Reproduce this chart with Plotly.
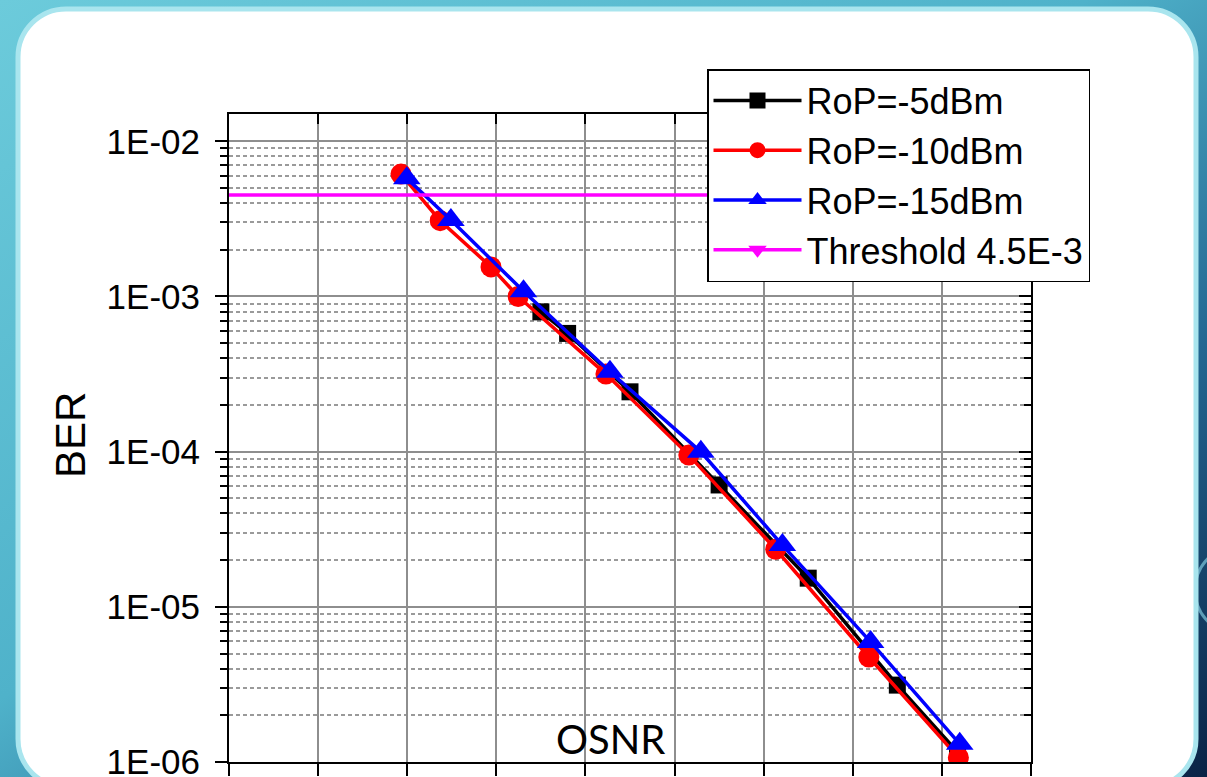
import base64
import plotly.graph_objects as go

# ---------------- data ----------------
osnr_m5 = [19.0, 19.6, 21.0, 23.0, 25.0, 27.0, 28.35]
ber_m5 = [7.96e-4, 5.78e-4, 2.43e-4, 6.1e-5, 1.53e-5, 3.13e-6, 1.16e-6]

osnr_m10 = [15.86, 16.74, 17.88, 18.49, 20.46, 22.32, 24.27, 26.36, 28.37]
ber_m10 = [6.15e-3, 3.08e-3, 1.55e-3, 1.0e-3, 3.16e-4, 9.5e-5, 2.35e-5, 4.75e-6, 1.07e-6]

osnr_m15 = [15.99, 16.98, 18.61, 20.55, 22.59, 24.42, 26.40, 28.40]
ber_m15 = [5.77e-3, 3.11e-3, 1.08e-3, 3.27e-4, 9.97e-5, 2.5e-5, 5.94e-6, 1.31e-6]

thr_osnr = [11, 31]
thr_ber = [4.5e-3, 4.5e-3]

names = ["RoP=-5dBm", "RoP=-10dBm", "RoP=-15dBm", "Threshold 4.5E-3"]
ytick_vals = [1e-2, 1e-3, 1e-4, 1e-5, 1e-6]
ytick_text = ["1E-02", "1E-03", "1E-04", "1E-05", "1E-06"]
minor_vals = [m * 10.0 ** e for e in range(-6, -1) for m in range(2, 10)]

X_RANGE = [12, 30]
Y_RANGE = [-6, -1.824]

W, H = 1207, 777
ML, MR, MT, MB = 229, 176, 114, 15
PW, PH = W - ML - MR, H - MT - MB

FONT = "Liberation Sans, Arial, sans-serif"

# ---------------- background (slide look) ----------------
svg = f'''<svg xmlns="http://www.w3.org/2000/svg" width="{W}" height="{H}" viewBox="0 0 {W} {H}">
<defs>
<linearGradient id="g" x1="0" y1="0" x2="1" y2="1">
<stop offset="0" stop-color="#6ccbdb"/>
<stop offset="0.45" stop-color="#4fb2ca"/>
<stop offset="0.72" stop-color="#236792"/>
<stop offset="1" stop-color="#0a2346"/>
</linearGradient>
</defs>
<rect width="{W}" height="{H}" fill="url(#g)"/>
<circle cx="1240" cy="590" r="45" fill="none" stroke="#7fc6dc" stroke-width="3" opacity="0.7"/>
<rect x="18" y="9" width="1178" height="778" rx="48" ry="48" fill="#ffffff" stroke="#a9e5ee" stroke-width="5"/>
</svg>'''
bg_uri = "data:image/svg+xml;base64," + base64.b64encode(svg.encode()).decode()

fig = go.Figure()

fig.add_trace(go.Scatter(
    x=thr_osnr, y=thr_ber, name=names[3], mode="lines+markers",
    line=dict(color="#ff00ff", width=3.5),
    marker=dict(symbol="triangle-down", size=18, color="#ff00ff"),
    legendrank=4, xaxis="x2", yaxis="y2", cliponaxis=True))

fig.add_trace(go.Scatter(
    x=osnr_m5, y=ber_m5, name=names[0], mode="lines+markers",
    line=dict(color="#000000", width=3.5),
    marker=dict(symbol="square", size=17, color="#000000"),
    legendrank=1))

fig.add_trace(go.Scatter(
    x=osnr_m10, y=ber_m10, name=names[1], mode="lines+markers",
    line=dict(color="#ff0000", width=3.5),
    marker=dict(symbol="circle", size=21, color="#ff0000"),
    legendrank=2))

fig.add_trace(go.Scatter(
    x=osnr_m15, y=ber_m15, name=names[2], mode="lines+markers",
    line=dict(color="#0000ff", width=3.5),
    marker=dict(symbol="triangle-up", size=24, color="#0000ff"),
    legendrank=3))

grid_col = "#8e8e8e"

fig.update_layout(
    width=W, height=H, autosize=False,
    margin=dict(l=ML, r=MR, t=MT, b=MB, autoexpand=False),
    paper_bgcolor="#ffffff", plot_bgcolor="rgba(0,0,0,0)",
    font=dict(family=FONT, color="#000000"),
    showlegend=True,
    legend=dict(
        x=(707 - ML) / PW, y=1 + (MT - 69) / PH, xanchor="left", yanchor="top",
        bgcolor="#ffffff", bordercolor="#000000", borderwidth=1.5,
        font=dict(family=FONT, size=36, color="#000000"),
        itemwidth=88, tracegroupgap=0, traceorder="normal",
    ),
    xaxis=dict(
        range=X_RANGE, dtick=2, tick0=12, showticklabels=False, automargin=False,
        ticks="outside", ticklen=12, tickwidth=2, tickcolor="#000000",
        showline=True, linecolor="#000000", linewidth=2,
        showgrid=True, gridcolor=grid_col, gridwidth=2, zeroline=False,
    ),
    yaxis=dict(
        type="log", range=Y_RANGE, automargin=False,
        tickmode="array", tickvals=ytick_vals, ticktext=ytick_text,
        tickfont=dict(family=FONT, size=35, color="#000000"),
        ticklabeloverflow="allow",
        ticks="outside", ticklen=12, tickwidth=2, tickcolor="#000000",
        ticklabelstandoff=8,
        showline=True, linecolor="#000000", linewidth=2,
        showgrid=True, gridcolor=grid_col, gridwidth=2, zeroline=False,
        minor=dict(tickmode="array", tickvals=minor_vals, ticks="outside",
                   ticklen=7, tickwidth=2, tickcolor="#000000",
                   showgrid=True, gridcolor="#9a9a9a", gridwidth=1.5,
                   griddash="4px,3px"),
    ),
    xaxis2=dict(
        overlaying="x", matches="x", side="top", anchor="y2", automargin=False,
        range=X_RANGE, dtick=2, tick0=12, showticklabels=False,
        ticks="inside", ticklen=10, tickwidth=2, tickcolor="#000000",
        showline=True, linecolor="#000000", linewidth=2, showgrid=False,
        zeroline=False,
    ),
    yaxis2=dict(
        overlaying="y", matches="y", side="right", anchor="x2", type="log",
        automargin=False,
        range=Y_RANGE, tickmode="array", tickvals=ytick_vals,
        showticklabels=False,
        ticks="inside", ticklen=12, tickwidth=2, tickcolor="#000000",
        showline=True, linecolor="#000000", linewidth=2, showgrid=False,
        zeroline=False,
        minor=dict(tickmode="array", tickvals=minor_vals, ticks="inside",
                   ticklen=7, tickwidth=2, tickcolor="#000000", showgrid=False),
    ),
    images=[dict(
        source=bg_uri, xref="paper", yref="paper",
        x=-ML / PW, y=1 + MT / PH, sizex=W / PW, sizey=H / PH,
        xanchor="left", yanchor="top", sizing="stretch", layer="below")],
    annotations=[
        dict(text="BER", xref="paper", yref="paper",
             x=(70 - ML) / PW, y=1 - (435 - MT) / PH, textangle=-90,
             xanchor="center", yanchor="middle",
             showarrow=False, font=dict(family=FONT, size=42, color="#000000")),
        dict(text="OSNR", xref="paper", yref="paper",
             x=(610 - ML) / PW, y=1 - (739 - MT) / PH,
             xanchor="center", yanchor="middle",
             showarrow=False, font=dict(family="Lato, Open Sans, sans-serif",
                                        size=40, color="#000000")),
    ],
)

fig.write_html(
    "out.html",
    config={"responsive": False, "displayModeBar": False},
    post_script="document.body.style.margin='0';document.body.style.overflow='hidden';",
)
